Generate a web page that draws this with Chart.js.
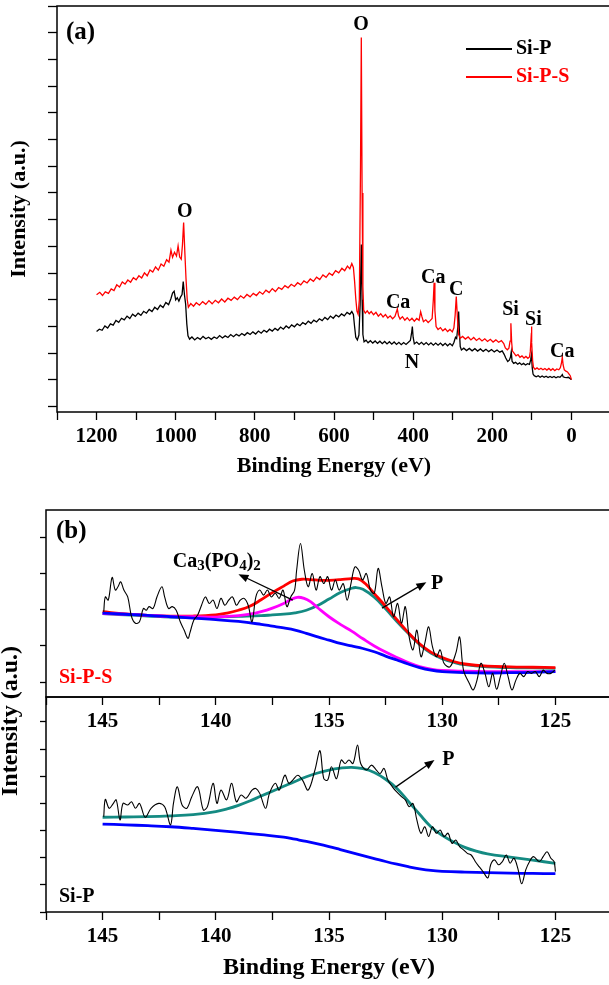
<!DOCTYPE html>
<html>
<head>
<meta charset="utf-8">
<script src="https://cdn.jsdelivr.net/npm/chart.js@4.4.1/dist/chart.umd.min.js"></script>
<style>
  html, body { margin: 0; padding: 0; background: #fff; overflow: hidden; }
  body { position: relative; width: 609px; height: 985px; }
  canvas { position: absolute; left: 0; }
  #survey { top: 0; }
  #siPS, #siP { top: 500px; }
</style>
</head>
<body>
<canvas id="survey" width="640" height="500"></canvas>
<canvas id="siPS" width="640" height="485"></canvas>
<canvas id="siP" width="640" height="485"></canvas>
<script>
const SERIF = "'Liberation Serif', 'Times New Roman', serif";
Chart.defaults.font.family = SERIF;
Chart.defaults.font.weight = 'bold';
Chart.defaults.color = '#000';

// ---- (a) survey spectra: [binding energy (eV), intensity (a.u.)]
const surveySiPS = [
  [1200, 41.9], [1192, 42.8], [1185, 41.6], [1178, 43.0], [1170, 42.4], [1163, 44.1], [1156, 43.5],
  [1149, 45.6], [1142, 44.8], [1135, 46.7], [1128, 45.9], [1121, 47.4], [1114, 46.6], [1107, 48.3],
  [1100, 47.5], [1093, 49.0], [1086, 48.2], [1079, 50.1], [1072, 49.0], [1065, 51.2], [1058, 50.4],
  [1051, 52.3], [1044, 51.1], [1037, 53.4], [1030, 52.6], [1023, 55.0], [1017, 54.1], [1012, 58.6],
  [1008, 55.9], [1003, 57.8], [998, 56.4], [994, 60.2], [990, 56.0], [986, 55.2], [983, 60.5],
  [980, 68.9], [977, 58.0], [974, 48.0], [971, 40.2], [968, 37.2], [962, 38.6], [955, 37.6],
  [948, 38.9], [940, 38.0], [932, 39.3], [924, 38.3], [916, 39.7], [908, 38.5], [900, 39.8],
  [892, 38.9], [884, 40.3], [876, 39.2], [868, 40.6], [860, 39.8], [852, 41.0], [844, 40.1],
  [836, 41.5], [828, 40.6], [820, 42.0], [812, 41.1], [804, 42.4], [796, 41.6], [788, 43.0],
  [780, 42.1], [772, 43.6], [764, 42.7], [756, 44.2], [748, 43.1], [740, 44.6], [732, 43.9],
  [724, 45.3], [716, 44.5], [708, 45.8], [700, 45.0], [692, 46.4], [684, 45.6], [676, 47.1],
  [668, 46.3], [660, 47.8], [652, 46.9], [644, 48.5], [636, 47.6], [628, 49.3], [620, 48.4],
  [612, 50.0], [604, 49.2], [596, 50.9], [588, 50.1], [580, 51.8], [573, 50.9], [566, 52.6],
  [560, 51.6], [555, 53.6], [551, 52.1], [548, 47.0], [545, 40.5], [542, 35.8], [539, 34.6],
  [536, 40.0], [533, 90.0], [531, 138.2], [529, 80.0], [527, 45.0], [525, 36.2], [521, 35.0],
  [516, 35.9], [511, 34.8], [506, 35.6], [500, 34.4], [494, 35.3], [488, 33.9], [482, 34.8],
  [476, 33.6], [470, 34.5], [464, 33.2], [458, 34.0], [452, 32.9], [446, 33.8], [442, 35.6],
  [440, 36.6], [437, 34.0], [433, 32.8], [427, 33.7], [421, 32.4], [415, 33.3], [409, 32.2],
  [403, 33.1], [397, 32.0], [391, 33.0], [385, 32.3], [381, 35.5], [378, 33.8], [374, 31.8],
  [368, 32.5], [362, 31.5], [357, 32.2], [352, 33.0], [349, 40.0], [347, 46.4], [345, 36.0],
  [342, 30.0], [337, 28.9], [331, 29.6], [325, 28.4], [319, 29.2], [313, 28.1], [307, 28.9],
  [301, 28.0], [297, 29.5], [294, 34.0], [291, 41.2], [288, 33.0], [285, 27.0], [281, 25.6],
  [275, 26.3], [268, 25.3], [261, 26.1], [254, 25.0], [247, 25.9], [240, 24.8], [233, 25.6],
  [226, 24.6], [219, 25.4], [212, 24.4], [205, 25.2], [198, 24.2], [191, 25.0], [184, 24.1],
  [177, 24.7], [171, 23.6], [167, 22.0], [162, 21.3], [158, 21.9], [155, 24.5], [153, 31.2],
  [151, 24.0], [149, 20.8], [145, 20.0], [140, 19.0], [135, 19.5], [130, 18.5], [125, 19.0],
  [120, 18.2], [115, 18.8], [110, 18.1], [106, 18.6], [104, 20.5], [102, 25.5], [101, 30.0],
  [100, 24.0], [98, 17.2], [96, 14.8], [92, 14.0], [87, 14.5], [82, 13.9], [77, 14.4],
  [72, 13.8], [67, 14.3], [62, 13.7], [57, 14.3], [52, 13.6], [47, 14.2], [42, 13.5],
  [37, 14.1], [32, 13.8], [28, 14.6], [25, 16.5], [23, 18.5], [21, 15.6], [18, 13.8],
  [14, 13.3], [10, 13.0], [6, 12.2], [3, 11.6], [0, 10.1]
];
const surveySiP = [
  [1200, 28.1], [1193, 29.0], [1186, 28.6], [1179, 30.2], [1172, 29.4], [1165, 31.0], [1158, 30.5],
  [1151, 32.3], [1144, 31.6], [1137, 33.1], [1130, 32.5], [1123, 33.9], [1116, 33.0], [1109, 34.6],
  [1102, 33.8], [1095, 35.0], [1088, 34.2], [1081, 35.7], [1074, 35.0], [1067, 36.4], [1060, 35.6],
  [1053, 37.2], [1046, 36.4], [1039, 38.0], [1032, 37.1], [1025, 39.0], [1018, 38.2], [1012, 40.5],
  [1008, 42.5], [1004, 43.2], [1000, 40.0], [996, 40.8], [992, 39.5], [988, 41.0], [984, 42.0],
  [981, 46.8], [978, 42.0], [975, 38.5], [972, 31.0], [969, 26.5], [965, 25.3], [959, 26.1],
  [952, 25.0], [945, 25.9], [938, 25.2], [931, 26.3], [924, 25.4], [917, 26.0], [910, 25.2],
  [903, 26.1], [896, 25.5], [889, 26.6], [882, 25.7], [875, 26.5], [868, 25.9], [861, 27.0],
  [854, 26.2], [847, 27.1], [840, 26.5], [833, 27.4], [826, 26.7], [819, 27.7], [812, 27.0],
  [805, 28.0], [798, 27.2], [791, 28.3], [784, 27.5], [777, 28.6], [770, 27.9], [763, 29.0],
  [756, 28.3], [749, 29.3], [742, 28.6], [735, 29.8], [728, 29.0], [721, 30.2], [714, 29.4],
  [707, 30.6], [700, 29.9], [693, 31.0], [686, 30.3], [679, 31.5], [672, 30.8], [665, 32.0],
  [658, 31.2], [651, 32.4], [644, 31.7], [637, 32.9], [630, 32.2], [623, 33.4], [616, 32.6],
  [609, 33.9], [602, 33.1], [595, 34.3], [588, 33.6], [581, 34.7], [574, 34.0], [567, 35.3],
  [560, 34.6], [555, 35.6], [551, 34.5], [548, 30.0], [545, 26.0], [541, 25.0], [537, 26.8],
  [534, 38.0], [531, 60.7], [529, 40.0], [527, 27.0], [524, 24.3], [519, 24.9], [514, 23.9],
  [508, 24.7], [502, 23.8], [496, 24.6], [490, 23.7], [484, 24.5], [478, 23.6], [472, 24.4],
  [466, 23.5], [460, 24.3], [454, 23.4], [448, 24.2], [442, 23.3], [436, 24.1], [430, 23.2],
  [424, 24.0], [418, 23.3], [412, 24.1], [407, 24.8], [404, 27.5], [402, 30.0], [400, 26.0],
  [397, 23.5], [391, 24.2], [385, 23.3], [379, 24.1], [373, 23.2], [367, 24.0], [361, 23.1],
  [355, 23.9], [349, 23.0], [343, 23.8], [337, 23.0], [331, 23.8], [325, 22.9], [319, 23.7],
  [313, 22.8], [307, 23.6], [301, 22.8], [297, 24.0], [293, 26.0], [290, 25.5], [287, 30.0],
  [285, 35.6], [283, 28.0], [281, 22.5], [278, 21.2], [272, 21.9], [265, 21.0], [258, 21.8],
  [251, 20.9], [244, 21.7], [237, 20.8], [230, 21.6], [223, 20.7], [216, 21.5], [209, 20.6],
  [202, 21.4], [195, 20.5], [188, 21.2], [181, 20.4], [175, 20.9], [170, 19.6], [166, 18.2],
  [161, 16.9], [157, 17.4], [154, 18.6], [152, 20.6], [150, 17.0], [146, 16.2], [141, 16.6],
  [136, 15.9], [131, 16.4], [126, 15.7], [121, 16.2], [116, 15.6], [111, 16.1], [106, 15.8],
  [103, 17.5], [101, 19.5], [99, 14.5], [97, 12.2], [94, 11.6], [89, 11.2], [84, 11.6],
  [79, 11.0], [74, 11.5], [69, 11.0], [64, 11.4], [59, 10.9], [54, 11.3], [49, 10.9],
  [44, 11.3], [39, 10.8], [34, 11.2], [29, 11.0], [25, 11.6], [23, 12.0], [21, 11.2],
  [17, 11.0], [12, 10.9], [8, 11.0], [4, 10.6], [0, 10.1]
];
// peak labels: [text, eV, intensity]
const surveyPeaks = [
  ['O', 532, 143], ['O', 977, 73], ['Ca', 438, 38.9], ['Ca', 349, 48.3], ['C', 291, 43.8],
  ['N', 403, 16.5], ['Si', 154, 36.3], ['Si', 96, 32.6], ['Ca', 23, 20.6]
];

// ---- (b) P 2p region, Si-P-S
const rawSiPS = [
  [144.95, 2.95], [144.88, 3.36], [144.75, 3.27], [144.58, 3.90], [144.44, 3.55], [144.32, 3.64],
  [144.20, 3.78], [144.06, 3.55], [143.89, 3.36], [143.72, 2.81], [143.55, 2.63], [143.37, 2.67],
  [143.20, 3.04], [143.07, 2.99], [142.95, 3.09], [142.77, 3.04], [142.60, 3.36], [142.38, 3.64],
  [142.26, 3.36], [142.09, 3.04], [141.92, 3.09], [141.75, 2.99], [141.57, 2.67], [141.40, 2.44],
  [141.23, 2.21], [141.15, 2.35], [140.97, 2.72], [140.80, 2.86], [140.63, 3.13], [140.46, 3.36],
  [140.29, 3.18], [140.12, 3.27], [139.95, 3.04], [139.77, 3.32], [139.60, 3.13], [139.43, 3.27],
  [139.26, 3.36], [139.09, 3.13], [138.92, 3.27], [138.75, 3.32], [138.57, 3.13], [138.40, 2.67],
  [138.23, 3.36], [138.06, 3.55], [137.89, 3.41], [137.72, 3.55], [137.55, 3.36], [137.37, 3.46],
  [137.20, 3.32], [137.03, 3.55], [136.86, 3.09], [136.69, 3.36], [136.52, 3.55], [136.43, 4.10],
  [136.26, 4.84], [136.09, 4.10], [135.92, 3.64], [135.74, 4.01], [135.57, 3.55], [135.40, 3.92],
  [135.23, 3.73], [135.06, 3.92], [134.89, 3.55], [134.72, 3.83], [134.55, 3.55], [134.37, 3.73],
  [134.20, 3.27], [134.03, 3.73], [133.86, 4.19], [133.69, 4.10], [133.52, 3.83], [133.35, 4.01],
  [133.17, 3.55], [133.00, 3.46], [132.83, 4.15], [132.66, 3.64], [132.49, 3.18], [132.32, 3.36],
  [132.15, 2.81], [131.97, 3.18], [131.80, 2.63], [131.63, 3.09], [131.46, 2.25], [131.29, 1.89],
  [131.12, 2.44], [130.94, 1.70], [130.77, 2.07], [130.60, 2.53], [130.43, 1.98], [130.26, 1.70],
  [130.09, 1.89], [129.92, 1.52], [129.66, 1.42], [129.40, 1.80], [129.23, 2.25], [129.06, 1.33],
  [128.80, 0.96], [128.63, 0.78], [128.46, 1.06], [128.29, 1.52], [128.11, 1.24], [127.94, 0.87],
  [127.77, 1.24], [127.60, 0.80], [127.43, 1.15], [127.26, 1.52], [127.09, 1.15], [126.92, 0.78],
  [126.74, 1.06], [126.57, 1.24], [126.40, 1.15], [126.23, 1.29], [126.06, 1.24], [125.89, 1.29],
  [125.71, 1.15], [125.54, 1.33], [125.37, 1.24], [125.20, 1.24], [125.03, 1.33]
];
const bgSiPS = [
  [145, 2.91], [144, 2.88], [143, 2.85], [142, 2.81], [141, 2.77], [140, 2.73], [139, 2.68],
  [138, 2.60], [137.5, 2.55], [137, 2.50], [136.5, 2.44], [136, 2.35], [135.5, 2.25], [135, 2.16],
  [134.5, 2.07], [134, 2.00], [133.5, 1.93], [133, 1.84], [132.5, 1.72], [132, 1.61], [131.5, 1.50],
  [131, 1.40], [130.5, 1.33], [130, 1.29], [129, 1.26], [128, 1.25], [127, 1.26], [126, 1.27], [125, 1.29]
];
const caPeakSiPS = [
  [145, 2.90], [144, 2.88], [143, 2.85], [142, 2.82], [141, 2.81], [140, 2.80], [139.5, 2.82],
  [139, 2.84], [138.5, 2.88], [138, 2.95], [137.5, 3.05], [137, 3.18], [136.7, 3.28], [136.4, 3.35],
  [136.1, 3.32], [135.8, 3.22], [135.5, 3.06], [135, 2.81], [134.5, 2.60], [134, 2.41], [133.5, 2.20],
  [133, 2.00], [132.5, 1.83], [132, 1.68], [131.5, 1.54], [131, 1.43], [130.5, 1.36], [130, 1.32],
  [129, 1.30], [128, 1.29], [127, 1.29], [125, 1.29]
];
const pPeakSiPS = [
  [145, 2.90], [144, 2.86], [143, 2.83], [142, 2.80], [141, 2.79], [140, 2.80], [139, 2.82],
  [138, 2.84], [137.5, 2.86], [137, 2.88], [136.5, 2.92], [136, 2.99], [135.5, 3.12], [135, 3.30],
  [134.5, 3.48], [134, 3.60], [133.8, 3.62], [133.5, 3.57], [133, 3.35], [132.5, 3.03], [132, 2.68],
  [131.5, 2.35], [131, 2.04], [130.5, 1.80], [130, 1.65], [129.5, 1.55], [129, 1.48], [128, 1.42],
  [127, 1.40], [126, 1.39], [125, 1.38]
];
const envSiPS = [
  [145, 2.95], [144, 2.89], [143, 2.85], [142, 2.83], [141, 2.83], [140, 2.86], [139.5, 2.91],
  [139, 2.99], [138.5, 3.10], [138, 3.28], [137.5, 3.48], [137, 3.66], [136.6, 3.80], [136.2, 3.85],
  [135.8, 3.84], [135.4, 3.82], [135, 3.82], [134.5, 3.84], [134, 3.87], [133.7, 3.86], [133.4, 3.73],
  [133, 3.45], [132.5, 3.10], [132, 2.73], [131.5, 2.37], [131, 2.06], [130.5, 1.83], [130, 1.68],
  [129.5, 1.57], [129, 1.50], [128, 1.44], [127, 1.42], [126, 1.41], [125, 1.40]
];

// ---- (b) P 2p region, Si-P
const rawSiP = [
  [144.95, 3.51], [144.88, 4.15], [144.71, 3.82], [144.54, 3.98], [144.40, 4.13], [144.23, 3.39],
  [144.10, 4.00], [143.89, 3.94], [143.72, 4.06], [143.55, 3.82], [143.37, 4.00], [143.12, 3.49],
  [142.86, 3.82], [142.52, 4.00], [142.26, 3.88], [142.00, 3.21], [141.87, 4.00], [141.70, 4.61],
  [141.49, 3.94], [141.28, 3.82], [141.06, 4.25], [140.80, 4.61], [140.55, 3.76], [140.37, 3.88],
  [140.12, 4.74], [139.95, 4.00], [139.77, 4.49], [139.52, 4.13], [139.30, 4.74], [139.09, 4.06],
  [138.88, 4.31], [138.66, 4.19], [138.40, 4.49], [138.23, 4.55], [138.06, 4.37], [137.80, 3.82],
  [137.63, 4.37], [137.37, 4.74], [137.20, 4.49], [136.95, 5.04], [136.77, 4.74], [136.60, 4.86],
  [136.38, 5.04], [136.17, 4.86], [135.92, 4.49], [135.62, 5.23], [135.40, 5.94], [135.23, 4.91],
  [135.06, 4.86], [134.89, 5.35], [134.67, 4.91], [134.46, 5.60], [134.29, 5.47], [134.12, 5.60],
  [133.94, 5.47], [133.74, 6.15], [133.60, 5.47], [133.35, 5.23], [133.12, 5.41], [132.91, 5.23],
  [132.74, 5.10], [132.57, 5.29], [132.40, 4.86], [132.20, 4.61], [132.02, 4.43], [131.80, 4.25],
  [131.63, 4.13], [131.46, 3.88], [131.29, 4.00], [131.12, 3.39], [130.94, 2.90], [130.77, 3.14],
  [130.60, 2.78], [130.43, 3.14], [130.26, 2.90], [130.09, 3.02], [129.92, 2.78], [129.74, 2.90],
  [129.57, 2.53], [129.40, 2.65], [129.23, 2.41], [129.06, 2.29], [128.89, 2.16], [128.72, 2.10],
  [128.54, 1.86], [128.37, 1.67], [128.20, 1.49], [127.98, 1.26], [127.86, 1.74], [127.69, 1.92],
  [127.51, 1.74], [127.34, 1.86], [127.17, 2.10], [127.00, 1.80], [126.83, 1.98], [126.66, 1.61],
  [126.49, 1.04], [126.31, 1.55], [126.14, 1.86], [125.97, 2.04], [125.71, 1.86], [125.54, 2.04],
  [125.37, 2.22], [125.20, 1.98], [125.06, 1.86], [125.00, 1.49]
];
const bgSiP = [
  [145, 3.24], [144, 3.21], [143, 3.18], [142, 3.14], [141, 3.08], [140, 3.01], [139, 2.93],
  [138, 2.85], [137, 2.76], [136.5, 2.68], [136, 2.60], [135.5, 2.51], [135, 2.41], [134.5, 2.30],
  [134, 2.19], [133.5, 2.08], [133, 1.97], [132.5, 1.86], [132, 1.76], [131.5, 1.67], [131, 1.59],
  [130.5, 1.53], [130, 1.50], [129, 1.47], [128, 1.45], [127, 1.43], [126, 1.42], [125, 1.41]
];
const pPeakSiP = [
  [145, 3.49], [144, 3.50], [143, 3.51], [142, 3.54], [141, 3.59], [140, 3.70], [139.5, 3.80],
  [139, 3.93], [138.5, 4.09], [138, 4.27], [137.5, 4.45], [137, 4.63], [136.5, 4.81], [136, 4.98],
  [135.5, 5.12], [135, 5.23], [134.5, 5.30], [134, 5.33], [133.5, 5.28], [133, 5.14], [132.5, 4.89],
  [132, 4.55], [131.5, 4.08], [131, 3.60], [130.5, 3.14], [130, 2.82], [129.5, 2.58], [129, 2.38],
  [128.5, 2.24], [128, 2.14], [127, 2.02], [126, 1.91], [125, 1.79]
];

// ---- drawing helpers
function text(ctx, str, x, y, size, color, align) {
  ctx.font = `bold ${size}px ${SERIF}`;
  ctx.fillStyle = color || '#000';
  ctx.textAlign = align || 'center';
  ctx.textBaseline = 'middle';
  ctx.fillText(str, x, y);
}

function arrow(ctx, x0, y0, x1, y1) {
  const a = Math.atan2(y1 - y0, x1 - x0), c = Math.cos(a), s = Math.sin(a);
  const L = 10, W = 4;
  ctx.strokeStyle = ctx.fillStyle = '#000';
  ctx.lineWidth = 1.3;
  ctx.beginPath();
  ctx.moveTo(x0, y0);
  ctx.lineTo(x1 - L * 0.6 * c, y1 - L * 0.6 * s);
  ctx.stroke();
  ctx.beginPath();
  ctx.moveTo(x1, y1);
  ctx.lineTo(x1 - L * c + W * s, y1 - L * s - W * c);
  ctx.lineTo(x1 - L * c - W * s, y1 - L * s + W * c);
  ctx.closePath();
  ctx.fill();
}

// box around the plot area
const frame = {
  id: 'frame',
  afterDraw(chart) {
    const { ctx, chartArea: a } = chart;
    ctx.save();
    ctx.strokeStyle = '#000';
    ctx.lineWidth = 1.5;
    ctx.strokeRect(a.left, a.top, a.right - a.left, a.bottom - a.top);
    ctx.restore();
  }
};

function line(data, color, width, tension) {
  return { data, borderColor: color, borderWidth: width, pointRadius: 0, fill: false, tension: tension || 0 };
}

function energyAxis(min, max, step, every, height, title) {
  return {
    type: 'linear', reverse: true, min, max,
    afterFit(s) { s.height = height; },
    border: { display: false },
    grid: { drawOnChartArea: false, tickLength: 8, tickColor: '#000', tickWidth: 1.3 },
    ticks: {
      stepSize: step, autoSkip: false, maxRotation: 0, includeBounds: false, padding: 4,
      font: { size: 21 },
      callback: v => (v % every === 0 && v > min && v < max) ? String(v) : ''
    },
    title: title ? {
      display: true, text: 'Binding Energy (eV)', font: { size: title.size, lineHeight: 1.2 },
      padding: { top: 0, bottom: title.pad }
    } : { display: false }
  };
}

function intensityAxis(min, max, step, width, tick, title) {
  return {
    type: 'linear', min, max,
    afterFit(s) { s.width = width; },
    border: { display: false },
    grid: { drawOnChartArea: false, tickLength: tick, tickColor: '#000', tickWidth: 1.3 },
    ticks: { display: false, stepSize: step, includeBounds: false, autoSkip: false },
    title: title ? {
      display: true, text: 'Intensity (a.u.)', font: { size: title.size, lineHeight: 1.2 },
      padding: { top: title.pad, bottom: 0 }
    } : { display: false }
  };
}

const base = {
  responsive: false, animation: false, events: [],
  plugins: { legend: { display: false }, tooltip: { enabled: false } }
};

// ---- (a) survey
const surveyNotes = {
  id: 'surveyNotes',
  afterDraw(chart) {
    const { ctx, chartArea: a, scales: { x, y } } = chart;
    ctx.save();
    surveyPeaks.forEach(([s, e, v]) => text(ctx, s, x.getPixelForValue(e), y.getPixelForValue(v), 20));
    text(ctx, '(a)', a.left + 9, a.top + 27, 25, '#000', 'left');
    [['Si-P', '#000000'], ['Si-P-S', '#ff0000']].forEach(([s, c], i) => {
      const ly = a.top + 43 + i * 28;
      ctx.strokeStyle = c;
      ctx.lineWidth = 2;
      ctx.beginPath();
      ctx.moveTo(466, ly);
      ctx.lineTo(512, ly);
      ctx.stroke();
      text(ctx, s, 516, ly, 20, c, 'left');
    });
    ctx.restore();
  }
};

new Chart(document.getElementById('survey'), {
  type: 'line',
  data: {
    datasets: [
      line(surveySiPS, '#ff0000', 1.3),
      line(surveySiP, '#000000', 1.3)
    ]
  },
  options: {
    ...base,
    layout: { padding: { top: 6, right: 29, left: 0, bottom: 0 } },
    scales: {
      x: energyAxis(-100, 1300, 100, 200, 88, { size: 22, pad: 20 }),
      y: intensityAxis(-2, 150, 10, 57, 9, { size: 22, pad: 6 })
    }
  },
  plugins: [frame, surveyNotes]
});

// ---- (b) upper, Si-P-S
const siPSNotes = {
  id: 'siPSNotes',
  afterDraw(chart) {
    const { ctx, chartArea: a, scales: { x, y } } = chart;
    ctx.save();
    text(ctx, '(b)', a.left + 10, a.top + 22, 25, '#000', 'left');
    text(ctx, 'Si-P-S', a.left + 13, a.bottom - 19, 20, '#ff0000', 'left');

    // Ca3(PO4)2 with lowered, smaller digits
    let cx = x.getPixelForValue(141.9);
    const cy = y.getPixelForValue(4.38);
    [['Ca', 0], ['3', 1], ['(PO', 0], ['4', 1], [')', 0], ['2', 1]].forEach(([s, sub]) => {
      ctx.font = `bold ${sub ? 15 : 20}px ${SERIF}`;
      ctx.fillStyle = '#000';
      ctx.textAlign = 'left';
      ctx.textBaseline = 'alphabetic';
      ctx.fillText(s, cx, cy + 7 + (sub ? 3 : 0));
      cx += ctx.measureText(s).width;
    });
    arrow(ctx, x.getPixelForValue(136.6), y.getPixelForValue(3.27), x.getPixelForValue(139.0), y.getPixelForValue(3.99));
    arrow(ctx, x.getPixelForValue(132.66), y.getPixelForValue(3.05), x.getPixelForValue(130.7), y.getPixelForValue(3.77));
    text(ctx, 'P', x.getPixelForValue(130.5), y.getPixelForValue(3.71), 20, '#000', 'left');
    ctx.restore();
  }
};

new Chart(document.getElementById('siPS'), {
  type: 'line',
  data: {
    datasets: [
      line(rawSiPS, '#000000', 1.1, 0.35),
      line(bgSiPS, '#0000ff', 2.8, 0.4),
      line(caPeakSiPS, '#ff00ff', 2.8, 0.4),
      line(envSiPS, '#ff0000', 2.8, 0.4),
      line(pPeakSiPS, '#148a82', 2.8, 0.4)
    ]
  },
  options: {
    ...base,
    layout: { padding: { top: 10, right: 28, left: 0, bottom: 0 } },
    scales: {
      x: energyAxis(122.5, 147.5, 2.5, 5, 288, null),
      y: intensityAxis(0.585, 5.77, 1, 46, 6, null)
    }
  },
  plugins: [frame, siPSNotes]
});

// ---- (b) lower, Si-P
const siPNotes = {
  id: 'siPNotes',
  afterDraw(chart) {
    const { ctx, chartArea: a, scales: { x, y } } = chart;
    ctx.save();
    text(ctx, 'Si-P', a.left + 13, a.bottom - 15, 20, '#000', 'left');
    arrow(ctx, x.getPixelForValue(132.06), y.getPixelForValue(4.60), x.getPixelForValue(130.34), y.getPixelForValue(5.60));
    text(ctx, 'P', x.getPixelForValue(130.0), y.getPixelForValue(5.60), 20, '#000', 'left');

    // shared y title for both (b) panels
    ctx.translate(11, 221);
    ctx.rotate(-Math.PI / 2);
    text(ctx, 'Intensity (a.u.)', 0, 0, 24, '#000', 'center');
    ctx.restore();
  }
};

new Chart(document.getElementById('siP'), {
  type: 'line',
  data: {
    datasets: [
      line(rawSiP, '#000000', 1.1, 0.35),
      line(bgSiP, '#0000ff', 2.8, 0.4),
      line(pPeakSiP, '#148a82', 2.8, 0.4)
    ]
  },
  options: {
    ...base,
    layout: { padding: { top: 197, right: 28, left: 0, bottom: 0 } },
    scales: {
      x: energyAxis(122.5, 147.5, 2.5, 5, 73, { size: 24, pad: 3 }),
      y: intensityAxis(0, 7.92, 1, 46, 6, null)
    }
  },
  plugins: [frame, siPNotes]
});
</script>
</body>
</html>
